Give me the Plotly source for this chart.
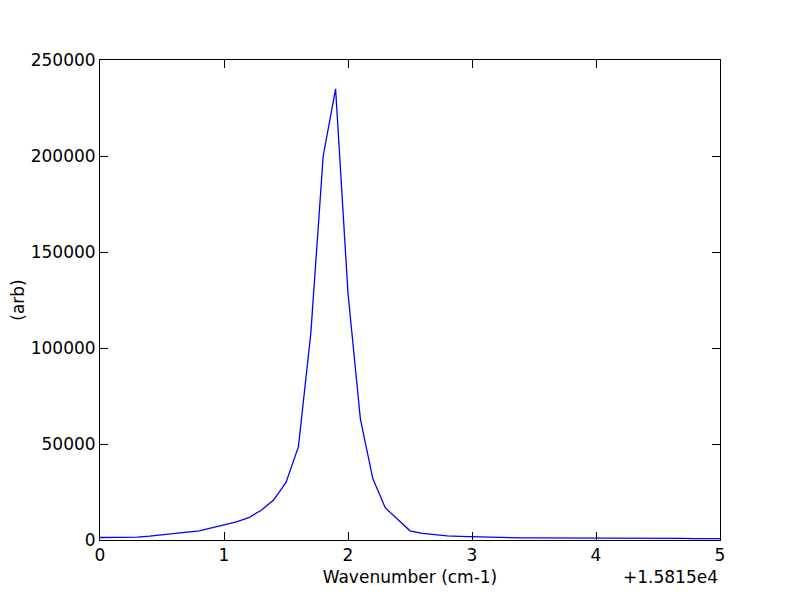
import plotly.graph_objects as go

# wavenumber offsets from 15815 cm-1, and the measured intensity (arb)
WAVENUMBER_OFFSET = 15815
wn = [0.0, 0.1, 0.2, 0.3, 0.4, 0.5, 0.6, 0.7, 0.8, 0.9, 1.0, 1.1, 1.2, 1.3, 1.4,
      1.5, 1.6, 1.7, 1.8, 1.9, 2.0, 2.1, 2.2, 2.3, 2.4, 2.5, 2.6, 2.7, 2.8, 2.9,
      3.0, 3.1, 3.2, 3.3, 3.4, 3.5, 3.6, 3.7, 3.8, 3.9, 4.0, 4.1, 4.2, 4.3, 4.4,
      4.5, 4.6, 4.7, 4.8, 4.9, 5.0]
intensity = [1300, 1300, 1200, 1500, 2000, 2600, 3300, 3900, 4700, 6300, 7900, 9500,
             11600, 15500, 20800, 30000, 48500, 107500, 200000, 235000, 128500, 63000,
             32000, 16800, 10800, 4800, 3400, 2600, 2100, 1900, 1700, 1600, 1500, 1300,
             1100, 1100, 1100, 1000, 1000, 1000, 900, 900, 1000, 1000, 900, 900, 800,
             800, 700, 700, 700]

x_ticks = [0, 1, 2, 3, 4, 5]
y_ticks = [0, 50000, 100000, 150000, 200000, 250000]

FONT = "DejaVu Sans"
FONT_SIZE = 17

fig = go.Figure(go.Scatter(x=wn, y=intensity, mode="lines",
                           line={"color": "#0000ff", "width": 1.3}))

axis = dict(showline=True, linecolor="black", linewidth=1, mirror="ticks",
            ticks="inside", ticklen=8, tickwidth=1, tickcolor="black",
            showgrid=False, zeroline=False, automargin=False,
            tickfont={"family": FONT, "size": FONT_SIZE, "color": "black"})
fig.update_xaxes(range=[0, 5], tickvals=x_ticks, ticktext=[str(t) for t in x_ticks],
                 title={"text": "Wavenumber (cm-1)", "font": {"family": FONT, "size": FONT_SIZE, "color": "black"},
                        "standoff": 6}, **axis)
fig.update_yaxes(range=[0, 250000], tickvals=y_ticks, ticktext=[str(t) for t in y_ticks],
                 title={"text": "(arb)", "font": {"family": FONT, "size": FONT_SIZE, "color": "black"},
                        "standoff": 10}, **axis)
fig.add_annotation(text=f"+{WAVENUMBER_OFFSET / 1e4:g}e4", xref="paper", yref="paper",
                   x=1, y=0, yshift=-25, xanchor="right", yanchor="top", showarrow=False,
                   font={"family": FONT, "size": FONT_SIZE, "color": "black"})
# the page adds an 8px body margin, so the plot margins are trimmed to match
fig.update_layout(width=800, height=600, showlegend=False,
                  margin={"l": 92, "r": 88, "t": 52, "b": 68},
                  paper_bgcolor="white", plot_bgcolor="white")
fig.write_html("out.html")
